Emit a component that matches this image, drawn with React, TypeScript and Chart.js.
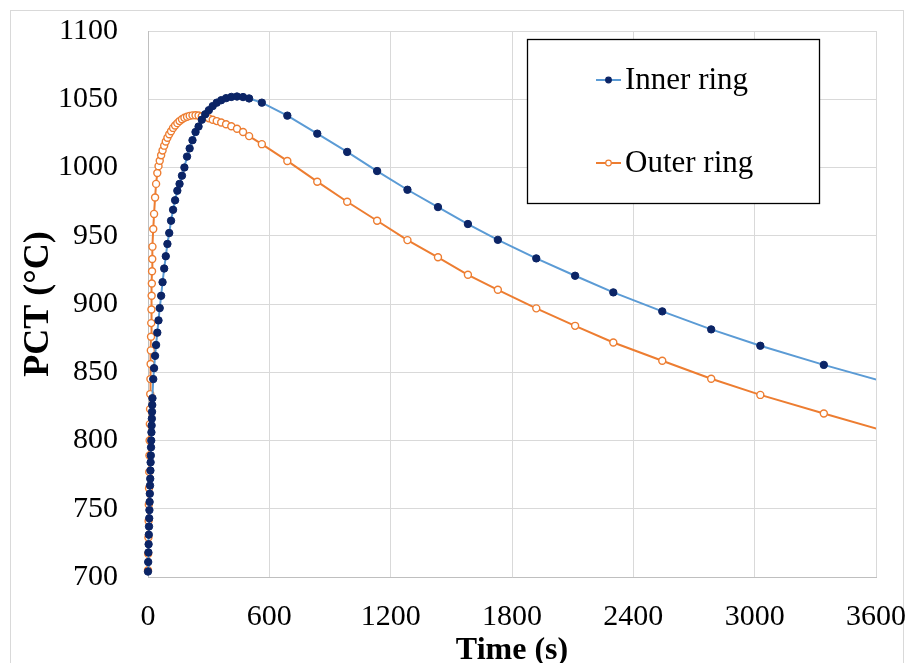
import React, { useEffect, useRef } from "react";
import { Chart, registerables } from "chart.js";
Chart.register(...registerables);

const timeS = [
  0, 1, 2, 3, 4, 5, 6, 7, 8, 9, 10, 11, 12, 13, 14, 15, 16, 17, 18, 19, 20, 21, 22,
  26, 30, 35, 40, 46, 52, 58, 65, 72, 80, 88, 96, 105, 114, 124, 134, 145, 156, 168, 180,
  193, 206, 220, 235, 250, 266, 283, 301, 320, 340, 362, 386, 412, 440, 470, 500,
  563, 689, 837, 985, 1133, 1283, 1434, 1582, 1730, 1920, 2112, 2301, 2543, 2785, 3028, 3342, 3656,
];

const innerRing = [
  704, 711, 718, 724, 731, 737, 743, 749, 755, 761, 767, 772, 778, 784, 789, 795, 800, 806, 811, 816, 821, 826, 831,
  845, 853, 862, 870, 879, 888, 897, 906, 916, 926, 935, 944, 952, 961, 969, 976, 983, 988, 994, 1000,
  1008, 1014, 1020, 1026, 1030, 1035, 1039, 1042, 1045, 1047.5, 1049.3, 1050.8, 1051.7, 1052, 1051.6, 1050.6,
  1047.5, 1038, 1024.8, 1011.4, 997.4, 983.7, 971, 958.6, 947, 933.4, 920.7, 908.5, 894.6, 881.4, 869.4, 855.4, 842.4,
];

const outerRing = [
  705, 717, 729, 741, 753, 765, 777, 789, 800, 812, 823, 834, 845, 856, 866, 876, 886, 896, 906, 915, 924, 933, 942,
  955, 966, 978, 988, 996, 1001, 1005, 1009, 1012.5, 1016, 1019, 1021.8, 1024.4, 1026.6, 1029, 1030.8, 1032.5, 1034, 1035.3, 1036.4,
  1037.2, 1037.8, 1038.2, 1038.3, 1038.1, 1037.6, 1036.9, 1036, 1035, 1034, 1033, 1031.7, 1030.2, 1028.4, 1026, 1023,
  1017.1, 1004.8, 989.6, 974.9, 961, 946.8, 934.2, 921.4, 910.4, 896.8, 884, 871.8, 858.4, 845.2, 833.4, 819.8, 806.4,
];

const seriesNames = ["Inner ring", "Outer ring"];
const xAxisTitle = "Time (s)";
const yAxisTitle = "PCT (°C)";

const SERIF = "'Liberation Serif', 'Times New Roman', serif";

const frameAndLegend = {
  id: "frameAndLegend",
  beforeDraw(chart: any) {
    const ctx = chart.ctx;
    ctx.save();
    ctx.fillStyle = "#ffffff";
    ctx.fillRect(0, 0, chart.width, chart.height);
    ctx.strokeStyle = "#d9d9d9";
    ctx.lineWidth = 1;
    ctx.strokeRect(10.5, 10.5, 893, 700);
    ctx.restore();
  },
  afterDraw(chart: any) {
    const ctx = chart.ctx;
    ctx.save();
    const x0 = 527.5, y0 = 39.5, w = 292, h = 164;
    ctx.fillStyle = "#ffffff";
    ctx.fillRect(x0, y0, w, h);
    ctx.strokeStyle = "#000000";
    ctx.lineWidth = 1.3;
    ctx.strokeRect(x0, y0, w, h);
    const rows = [80, 163];
    chart.data.datasets.forEach((ds: any, i: number) => {
      const cy = rows[i];
      ctx.strokeStyle = ds.borderColor;
      ctx.lineWidth = 2;
      ctx.beginPath();
      ctx.moveTo(596, cy);
      ctx.lineTo(621, cy);
      ctx.stroke();
      ctx.beginPath();
      ctx.arc(608.5, cy, 2.8, 0, Math.PI * 2);
      ctx.fillStyle = ds.pointBackgroundColor;
      ctx.fill();
      ctx.strokeStyle = ds.pointBorderColor;
      ctx.lineWidth = 1.2;
      ctx.stroke();
      ctx.fillStyle = "#000000";
      ctx.font = `31px ${SERIF}`;
      ctx.textBaseline = "middle";
      ctx.textAlign = "left";
      ctx.fillText(ds.label, 625, cy + 1);
    });
    ctx.restore();
  },
};

export default function App() {
  const canvasRef = useRef<HTMLCanvasElement | null>(null);

  useEffect(() => {
    if (!canvasRef.current) return;
    const innerPts = timeS.map((t, i) => ({ x: t, y: innerRing[i] }));
    const outerPts = timeS.map((t, i) => ({ x: t, y: outerRing[i] }));
    const chart = new Chart(canvasRef.current, {
      type: "line",
      data: {
        datasets: [
          {
            label: seriesNames[0],
            data: innerPts,
            borderColor: "#5b9bd5",
            borderWidth: 2,
            pointRadius: 3.7,
            pointBackgroundColor: "#0b2466",
            pointBorderColor: "#0b2466",
            pointBorderWidth: 1,
            tension: 0,
            clip: { left: 8, top: 8, right: 0, bottom: 8 },
          },
          {
            label: seriesNames[1],
            data: outerPts,
            borderColor: "#ed7d31",
            borderWidth: 2,
            pointRadius: 3.5,
            pointBackgroundColor: "#ffffff",
            pointBorderColor: "#ed7d31",
            pointBorderWidth: 1.4,
            tension: 0,
            clip: { left: 8, top: 8, right: 0, bottom: 8 },
          },
        ] as any,
      },
      options: {
        animation: false,
        responsive: false,
        maintainAspectRatio: false,
        events: [],
        layout: { padding: { left: 0, right: 31, top: 31, bottom: 0 } },
        plugins: {
          legend: { display: false },
          tooltip: { enabled: false },
        },
        scales: {
          x: {
            type: "linear",
            min: 0,
            max: 3600,
            ticks: {
              stepSize: 600,
              color: "#000000",
              font: { family: SERIF, size: 30 },
              padding: 22,
              maxRotation: 0,
              callback: (v: any) => String(v),
            },
            grid: { color: "#d9d9d9", lineWidth: 1, drawTicks: false },
            border: { color: "#bfbfbf", width: 1 },
            title: {
              display: true,
              text: xAxisTitle,
              color: "#000000",
              font: { family: SERIF, size: 32, weight: "bold", lineHeight: 1 },
              padding: { top: 0, bottom: -4 },
            },
            afterFit: (scale: any) => {
              scale.height = 86;
              scale.paddingLeft = 0;
              scale.paddingRight = 0;
            },
          },
          y: {
            type: "linear",
            min: 700,
            max: 1100,
            ticks: {
              stepSize: 50,
              color: "#000000",
              font: { family: SERIF, size: 30 },
              padding: 30,
              callback: (v: any) => String(v),
            },
            grid: { color: "#d9d9d9", lineWidth: 1, drawTicks: false },
            border: { color: "#bfbfbf", width: 1 },
            title: {
              display: true,
              text: yAxisTitle,
              color: "#000000",
              font: { family: SERIF, size: 36, weight: "bold", lineHeight: 1 },
              padding: { top: 21, bottom: 0 },
            },
            afterFit: (scale: any) => {
              scale.width = 148;
              scale.paddingTop = 0;
              scale.paddingBottom = 0;
            },
          },
        },
      },
      plugins: [frameAndLegend],
    } as any);
    return () => chart.destroy();
  }, []);

  return (
    <div style={{ position: "fixed", left: 0, top: 0, width: 907, height: 663, background: "#fff" }}>
      <canvas ref={canvasRef} width={907} height={663} style={{ display: "block", width: 907, height: 663 }} />
    </div>
  );
}
